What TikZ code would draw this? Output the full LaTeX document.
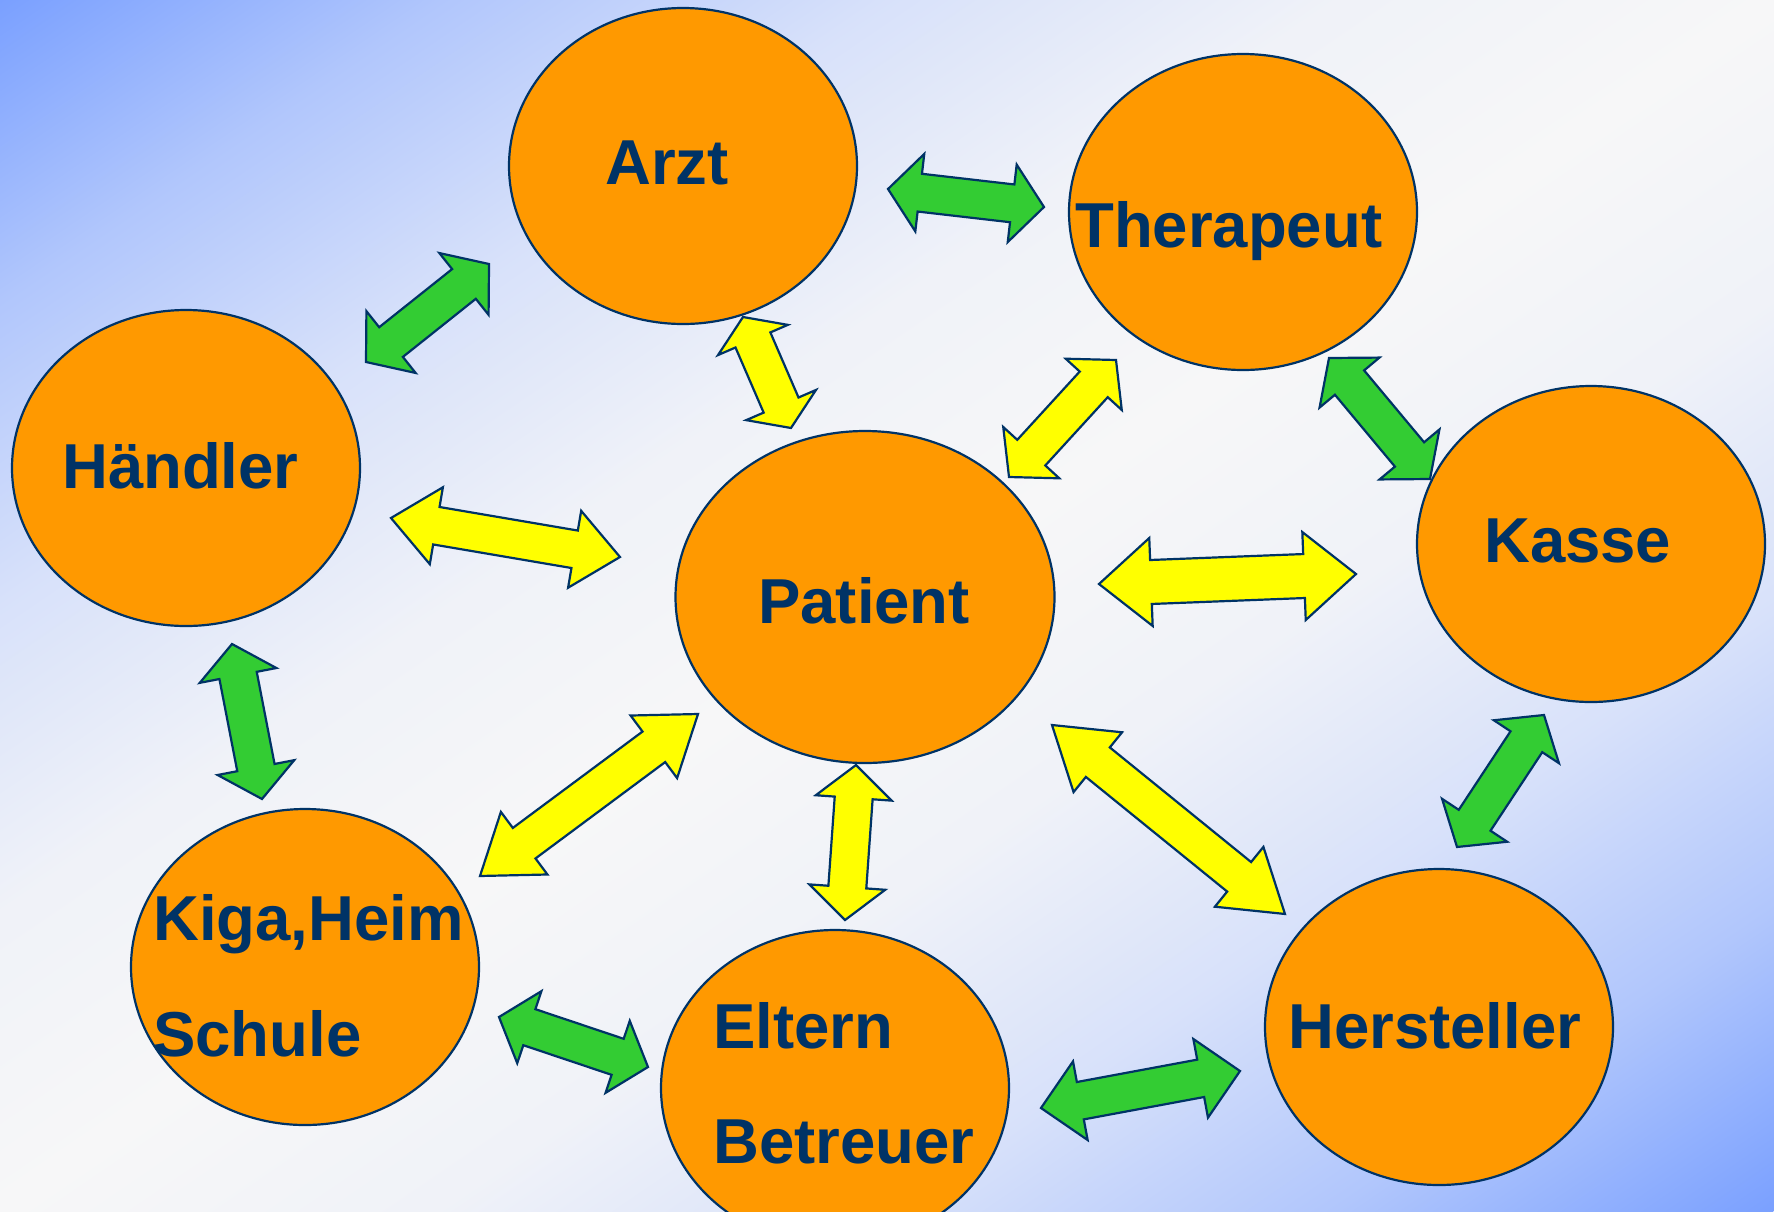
\documentclass[tikz,border=0pt]{standalone}
\usepackage{fontspec}
\setmainfont{Liberation Sans}
\usetikzlibrary{shapes.geometric,calc}
\definecolor{navy}{HTML}{003366}
\definecolor{orangeF}{HTML}{FF9900}
\definecolor{greenF}{HTML}{33CC33}
\definecolor{yellowF}{HTML}{FFFF00}
\definecolor{bgblue}{HTML}{7AA0FF}
\definecolor{bgwhite}{HTML}{F7F7F8}
\colorlet{bgA}{bgblue!56!bgwhite}
\colorlet{bgB}{bgblue!25!bgwhite}
\colorlet{bgC}{bgblue!6!bgwhite}
\pgfdeclarehorizontalshading{bgshade}{100bp}{color(0bp)=(bgblue); color(25bp)=(bgblue);
  color(31.25bp)=(bgA); color(37.5bp)=(bgB); color(43.75bp)=(bgC); color(50bp)=(bgwhite);
  color(56.25bp)=(bgC); color(62.5bp)=(bgB); color(68.75bp)=(bgA); color(75bp)=(bgblue); color(100bp)=(bgblue)}
\tikzset{
  blob/.style={ellipse, draw=navy, line width=2.2pt, fill=orangeF, minimum width=348pt, minimum height=316pt, inner sep=0pt},
  bigblob/.style={blob, minimum width=379pt, minimum height=332pt},
  lbl/.style={anchor=base west, inner sep=0pt, text=navy, font=\fontsize{63.5}{76}\selectfont\bfseries},
  arrowline/.style={draw=navy, line width=2.2pt, line join=miter},
}
% #1 from, #2 to, #3 fill, #4 shaft half width, #5 head half width, #6 head length
\newcommand\blockarrow[6]{%
  \path let \p1=(#1), \p2=(#2) in \pgfextra{%
    \pgfmathsetmacro\tmpang{atan2(\y2-\y1,\x2-\x1)}\xdef\bang{\tmpang}%
    \pgfmathsetmacro\tmplen{veclen(\x2-\x1,\y2-\y1)}\xdef\blen{\tmplen}};
  \begin{scope}[shift={(#1)}, rotate=\bang]
    \draw[arrowline, fill=#3] (0,0) -- (#6,#5) -- (#6,#4) -- (\blen-#6,#4) -- (\blen-#6,#5)
      -- (\blen,0) -- (\blen-#6,-#5) -- (\blen-#6,-#4) -- (#6,-#4) -- (#6,-#5) -- cycle;
  \end{scope}}
\begin{document}
\begin{tikzpicture}[x=1pt,y=1pt]
\useasboundingbox (0,-1211) rectangle (1774,0);
% background
\begin{scope}
  \clip (0,-1211) rectangle (1774,0);
  \begin{scope}[transform canvas={shift={(887,-605.5)}, rotate=124.3}]
    \shade[shading=bgshade] (-1000,-1150) rectangle (1000,1150);
  \end{scope}
\end{scope}
% ellipses
\begin{scope}
  \clip (0,-1211) rectangle (1774,0);
  \node[blob] (arzt) at (683,-166) {};
  \node[blob] (therapeut) at (1243,-212) {};
  \node[blob] (haendler) at (186,-468) {};
  \node[bigblob] (patient) at (865,-597) {};
  \node[blob] (kasse) at (1591,-544) {};
  \node[blob] (kiga) at (305,-967) {};
  \node[blob] (eltern) at (835,-1088) {};
  \node[blob] (hersteller) at (1439,-1027) {};
\end{scope}
% arrow end points
\coordinate (g1a) at (888,-189);  \coordinate (g1b) at (1044,-207);
\coordinate (g2a) at (366,-362);  \coordinate (g2b) at (489,-264);
\coordinate (g3a) at (232,-644);  \coordinate (g3b) at (262,-799);
\coordinate (g4a) at (499,-1017); \coordinate (g4b) at (648,-1067);
\coordinate (g5a) at (1041,-1108); \coordinate (g5b) at (1240,-1071);
\coordinate (g6a) at (1329,-358); \coordinate (g6b) at (1430,-479);
\coordinate (g7a) at (1544,-715); \coordinate (g7b) at (1457,-847);
\coordinate (y1a) at (743,-317);  \coordinate (y1b) at (791,-428);
\coordinate (y2a) at (1116,-360); \coordinate (y2b) at (1009,-477);
\coordinate (y3a) at (391,-518);  \coordinate (y3b) at (620,-557);
\coordinate (y4a) at (1099,-584); \coordinate (y4b) at (1356,-574);
\coordinate (y5a) at (698,-714);  \coordinate (y5b) at (480,-876);
\coordinate (y6a) at (856,-765);  \coordinate (y6b) at (845,-920);
\coordinate (y7a) at (1052,-725); \coordinate (y7b) at (1285,-914);
% green arrows
\blockarrow{g1a}{g1b}{greenF}{19}{39}{32}
\blockarrow{g2a}{g2b}{greenF}{19}{39.5}{32}
\blockarrow{g3a}{g3b}{greenF}{19}{39}{32}
\blockarrow{g4a}{g4b}{greenF}{19}{38}{32}
\blockarrow{g5a}{g5b}{greenF}{19}{40}{40}
\blockarrow{g6a}{g6b}{greenF}{19}{39}{32}
\blockarrow{g7a}{g7b}{greenF}{19}{39}{32}
% yellow arrows
\blockarrow{y1a}{y1b}{yellowF}{19}{38}{25}
\blockarrow{y2a}{y2b}{yellowF}{19}{38}{33}
\blockarrow{y3a}{y3b}{yellowF}{19}{39}{46}
\blockarrow{y4a}{y4b}{yellowF}{22}{44}{52}
\blockarrow{y5a}{y5b}{yellowF}{19}{39}{55}
\blockarrow{y6a}{y6b}{yellowF}{19}{38}{33}
\blockarrow{y7a}{y7b}{yellowF}{19}{38.5}{59}
% labels
\node[lbl] (tarzt) at (605,-184) {Arzt};
\node[lbl] (ttherapeut) at (1075,-247) {Therapeut};
\node[lbl] (thaendler) at (62,-488) {Händler};
\node[lbl] (tpatient) at (758,-623) {Patient};
\node[lbl] (tkasse) at (1484,-562) {Kasse};
\node[lbl] (tkigaA) at (153,-940) {Kiga,Heim};
\node[lbl] (tkigaB) at (153,-1056) {Schule};
\node[lbl] (telternA) at (713,-1048) {Eltern};
\node[lbl] (telternB) at (713,-1163) {Betreuer};
\node[lbl] (thersteller) at (1288,-1048) {Hersteller};
\end{tikzpicture}
\end{document}
